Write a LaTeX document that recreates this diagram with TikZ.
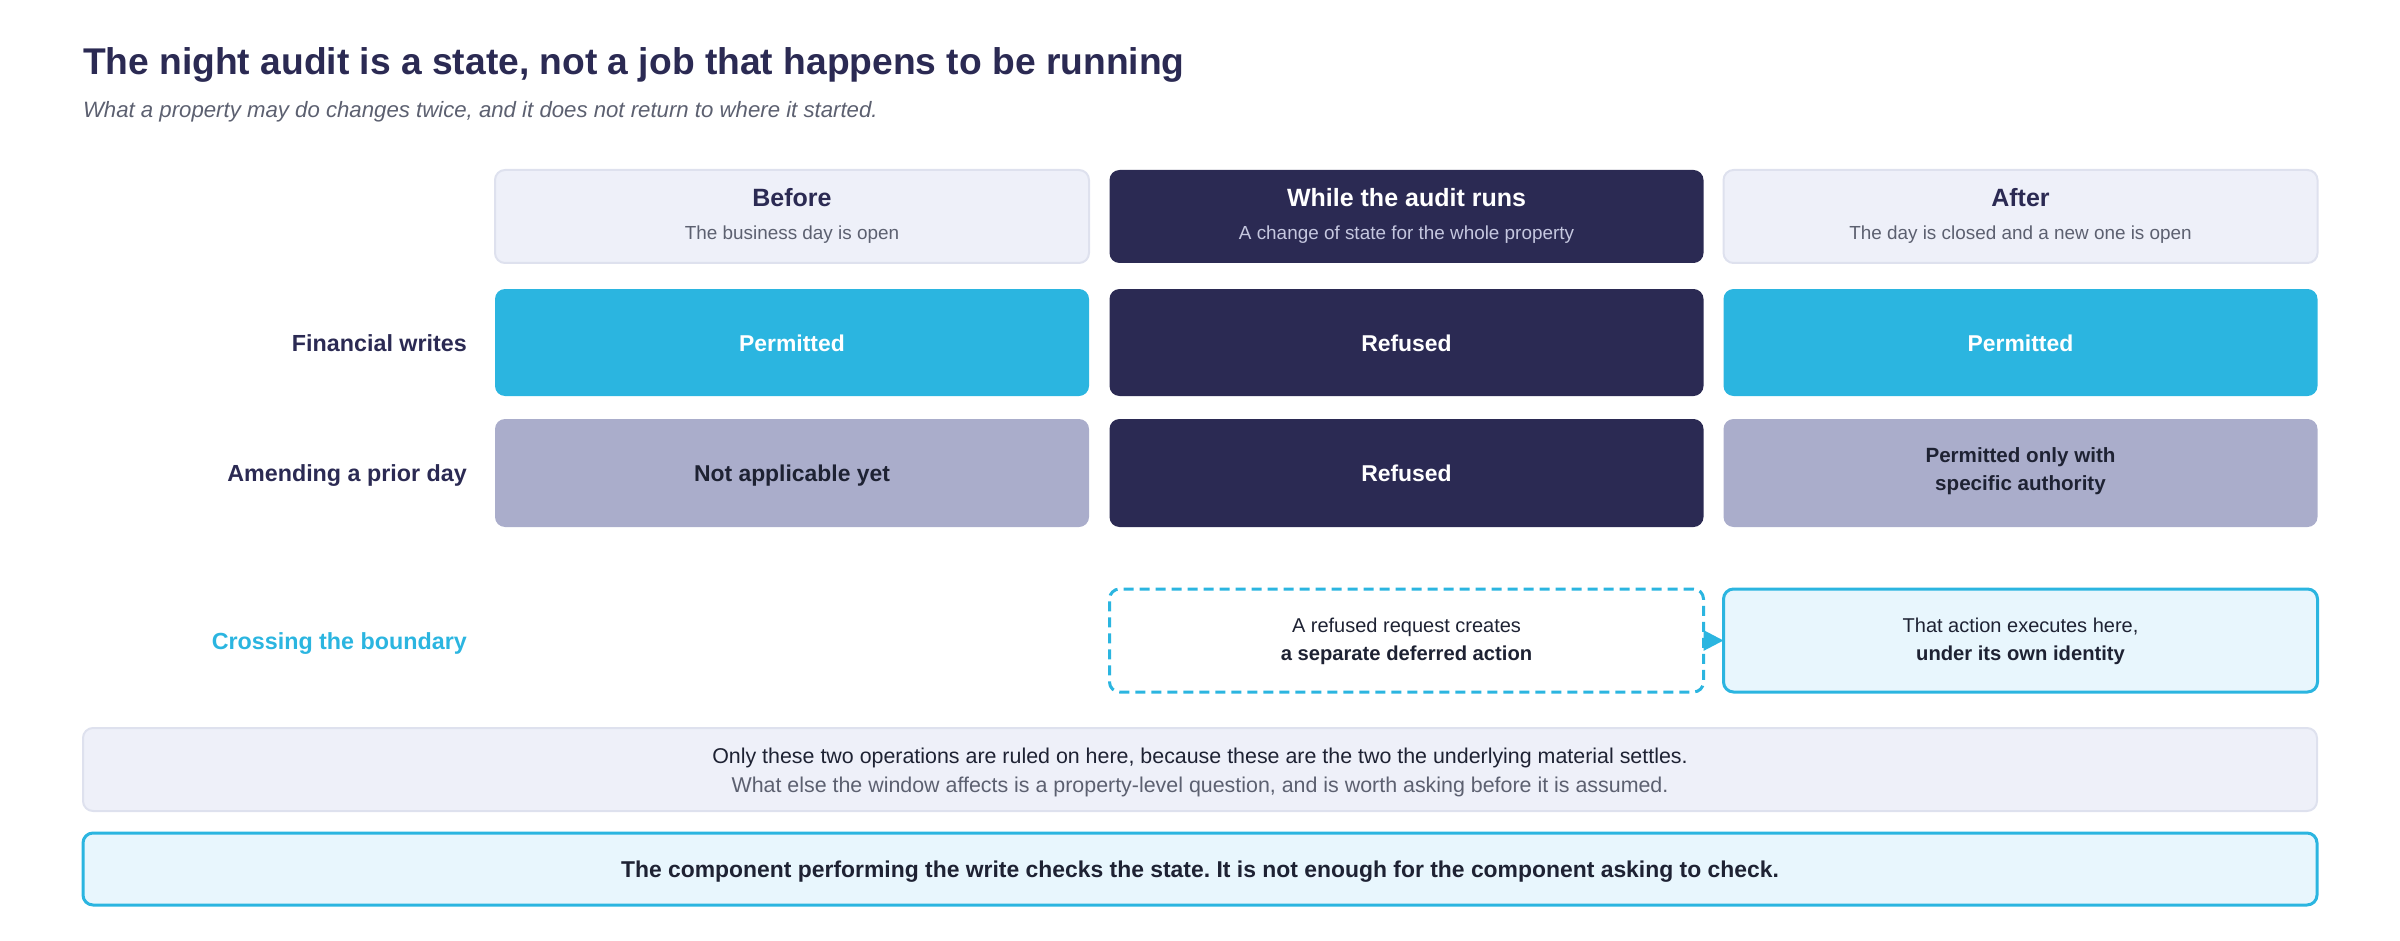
\documentclass[tikz,border=0pt]{standalone}
\usepackage{fontspec}
\setmainfont{Liberation Sans}
\usetikzlibrary{arrows.meta}
\frenchspacing
\definecolor{navy}{HTML}{2B2A53}
\definecolor{cyanc}{HTML}{2BB5E0}
\definecolor{lav}{HTML}{AAADCB}
\definecolor{hdrfill}{HTML}{EEF0F9}
\definecolor{hdrline}{HTML}{DEE1EE}
\definecolor{lcyan}{HTML}{E8F6FD}
\definecolor{tdark}{HTML}{1E2233}
\definecolor{tgrey}{HTML}{5C6070}
\definecolor{tlight}{HTML}{C5C7DF}
\newcommand{\fsz}[1]{\fontsize{#1}{#1}\selectfont}
\tikzset{
  box/.style={rounded corners=10pt, minimum width=594pt, inner sep=0pt, outer sep=0pt},
  hdr/.style={box, minimum height=93pt, fill=hdrfill, draw=hdrline, line width=2pt},
  hdrdark/.style={box, minimum height=93pt, fill=navy},
  cellA/.style={box, minimum height=107pt},
  cellB/.style={box, minimum height=108pt},
  txt/.style={inner sep=0pt, outer sep=0pt, anchor=base},
  hdrt/.style={txt, font=\bfseries\fsz{25}},
  subt/.style={txt, font=\fsz{18.9}},
  cellt/.style={txt, font=\bfseries\fsz{22.9}},
  rowlbl/.style={inner sep=0pt, anchor=base east, font=\bfseries\fsz{23.3}, text=navy},
}
\begin{document}
\begin{tikzpicture}[x=1pt,y=-1pt]
\useasboundingbox (0,0) rectangle (2400,941);
% title
\node[txt, anchor=base west, font=\bfseries\fsz{37.2}, text=navy] (title) at (83,75) {The night audit is a state, not a job that happens to be running};
\node[txt, anchor=base west, font=\itshape\fsz{22.2}, text=tgrey] (subtitle) at (83,118) {What a property may do changes twice, and it does not return to where it started.};
% headers
\node[hdr] (h1) at (792,216.5) {};
\node[hdrdark] (h2) at (1406.5,216.5) {};
\node[hdr] (h3) at (2020.5,216.5) {};
\node[hdrt, text=navy] (h1t) at (792,207) {Before};
\node[subt, text=tgrey] (h1s) at (792,240) {The business day is open};
\node[hdrt, text=white] (h2t) at (1406.5,207) {While the audit runs};
\node[subt, text=tlight] (h2s) at (1406.5,240) {A change of state for the whole property};
\node[hdrt, text=navy] (h3t) at (2020.5,207) {After};
\node[subt, text=tgrey] (h3s) at (2020.5,240) {The day is closed and a new one is open};
% row 1
\node[rowlbl] (r1) at (467,351) {Financial writes};
\node[cellA, fill=cyanc] (c11) at (792,342.5) {};
\node[cellA, fill=navy] (c12) at (1406.5,342.5) {};
\node[cellA, fill=cyanc] (c13) at (2020.5,342.5) {};
\node[cellt, text=white] (c11t) at (792,351) {Permitted};
\node[cellt, text=white] (c12t) at (1406.5,351) {Refused};
\node[cellt, text=white] (c13t) at (2020.5,351) {Permitted};
% row 2
\node[rowlbl] (r2) at (467,481.5) {Amending a prior day};
\node[cellB, fill=lav] (c21) at (792,473) {};
\node[cellB, fill=navy] (c22) at (1406.5,473) {};
\node[cellB, fill=lav] (c23) at (2020.5,473) {};
\node[cellt, text=tdark] (c21t) at (792,481.5) {Not applicable yet};
\node[cellt, text=white] (c22t) at (1406.5,481.5) {Refused};
\node[cellt, text=tdark, font=\bfseries\fsz{20.6}] (c23a) at (2020.5,462) {Permitted only with};
\node[cellt, text=tdark, font=\bfseries\fsz{20.6}] (c23b) at (2020.5,490) {specific authority};
% crossing
\node[rowlbl, text=cyanc] (r3) at (467,649) {Crossing the boundary};
\node[box, minimum height=103pt, draw=cyanc, line width=3pt, dash pattern=on 10pt off 6pt] (d1) at (1406.5,640.5) {};
\node[box, minimum height=103pt, draw=cyanc, fill=lcyan, line width=3pt] (d2) at (2020.5,640.5) {};
\node[txt, font=\fsz{20}, text=tdark] (d1a) at (1406.5,632) {A refused request creates};
\node[txt, font=\bfseries\fsz{20.2}, text=tdark] (d1b) at (1406.5,660) {a separate deferred action};
\node[txt, font=\fsz{20}, text=tdark] (d2a) at (2020.5,632) {That action executes here,};
\node[txt, font=\bfseries\fsz{20.2}, text=tdark] (d2b) at (2020.5,660) {under its own identity};
\draw[cyanc, line width=3pt, -{Triangle[length=20pt,width=20pt]}] (d1.east) -- (d2.west);
% note
\node[box, minimum width=2234pt, minimum height=83pt, fill=hdrfill, draw=hdrline, line width=2pt] (note) at (1200,769.5) {};
\node[txt, font=\fsz{21.4}, text=tdark] (n1) at (1200,763) {Only these two operations are ruled on here, because these are the two the underlying material settles.};
\node[txt, font=\fsz{21.4}, text=tgrey] (n2) at (1200,792) {What else the window affects is a property-level question, and is worth asking before it is assumed.};
% bottom
\node[box, minimum width=2234pt, minimum height=72pt, fill=lcyan, draw=cyanc, line width=3pt] (bot) at (1200,869) {};
\node[txt, font=\bfseries\fsz{22.9}, text=tdark] (bt) at (1200,877) {The component performing the write checks the state. It is not enough for the component asking to check.};
\end{tikzpicture}
\end{document}
